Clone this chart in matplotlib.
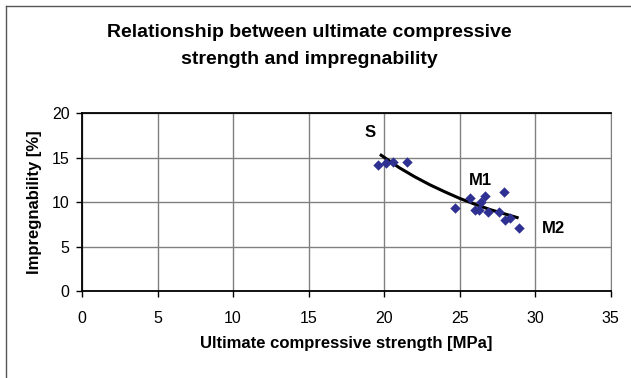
import matplotlib
matplotlib.use("Agg")
import matplotlib.pyplot as plt
from matplotlib.lines import Line2D

plt.rcParams['font.family'] = ['Liberation Sans', 'DejaVu Sans']

# measured points (ultimate compressive strength [MPa], impregnability [%])
strength = [19.6, 20.1, 20.6, 21.5, 24.7, 25.7, 26.0, 26.25, 26.4, 26.7,
            26.9, 27.6, 27.9, 28.0, 28.3, 28.9]
impregnability = [14.2, 14.4, 14.55, 14.5, 9.4, 10.55, 9.2, 9.1, 10.0, 10.7,
                  8.95, 8.95, 11.2, 8.0, 8.2, 7.15]

# trend line
trend_x = [19.8, 21, 22, 23, 24, 25, 26, 27, 28, 28.8]
trend_y = [15.3, 13.9, 12.9, 12.0, 11.2, 10.45, 9.8, 9.2, 8.7, 8.3]

labels = ["S", "M1", "M2"]
label_pos = [(19.1, 17.8), (26.4, 12.5), (31.2, 7.1)]

fig = plt.figure(figsize=(6.31, 3.78), dpi=100)
ax = fig.add_axes([0.130, 0.229, 0.838, 0.471])

ax.plot(trend_x, trend_y, color='black', linewidth=2.2, zorder=3)
ax.scatter(strength, impregnability, marker='D', s=28, color='#2e3192',
           linewidths=0, zorder=4)

for lab, (lx, ly) in zip(labels, label_pos):
    ax.text(lx, ly, lab, fontsize=12, fontweight='bold', ha='center',
            va='center', zorder=5)

ax.set_xlim(0, 35)
ax.set_ylim(0, 20)
ax.set_xticks(range(0, 36, 5))
ax.set_yticks(range(0, 21, 5))
ax.tick_params(labelsize=11.5, length=4, width=1, direction='out')
ax.tick_params(axis='x', pad=10)
ax.tick_params(axis='y', pad=5)
ax.grid(True, color='#808080', linewidth=1)
ax.set_axisbelow(True)
for side in ['left', 'bottom', 'top']:
    ax.spines[side].set_color('black')
    ax.spines[side].set_linewidth(1.3)
ax.spines['right'].set_color('#808080')

ax.set_xlabel("Ultimate compressive strength [MPa]", fontsize=12,
              fontweight='bold', labelpad=7)
ax.set_ylabel("Impregnability [%]", fontsize=12, fontweight='bold',
              labelpad=7)

fig.text(0.490, 0.878, "Relationship between ultimate compressive\nstrength and impregnability",
         ha='center', va='center', fontsize=14, fontweight='bold',
         linespacing=1.8)

# outer frame (top and left edges visible)
fig.add_artist(Line2D([0.009, 0.009], [0, 0.984], color='#555555',
                      linewidth=1, transform=fig.transFigure))
fig.add_artist(Line2D([0.009, 1.0], [0.984, 0.984], color='#555555',
                      linewidth=1, transform=fig.transFigure))

fig.savefig("out.png", dpi=100)
